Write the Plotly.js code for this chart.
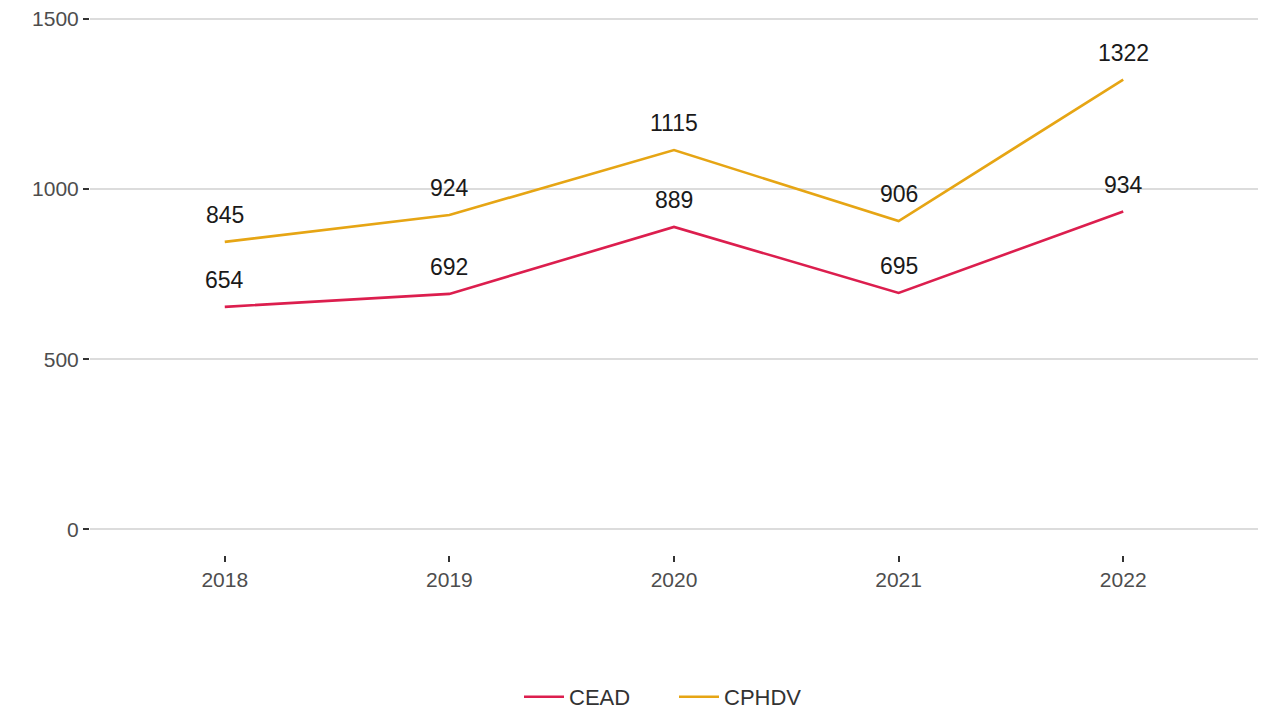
<!DOCTYPE html>
<html>
<head>
<meta charset="utf-8">
<script src="https://cdn.plot.ly/plotly-3.0.1.min.js"></script>
<style>html,body{margin:0;padding:0;background:#fff;}#chart{width:1268px;height:709px;}</style>
</head>
<body>
<div id="chart"></div>
<script>
var years = [2018, 2019, 2020, 2021, 2022];
var cead = [654, 692, 889, 695, 934];
var cphdv = [845, 924, 1115, 906, 1322];
var seriesNames = ["CEAD", "CPHDV"];
var yTicks = [0, 500, 1000, 1500];

var colors = ["#DC1E4E", "#E6A514"];
var series = [cead, cphdv];

var traces = series.map(function (vals, i) {
  return {
    x: years, y: vals, name: seriesNames[i], type: "scatter", mode: "lines",
    line: { color: colors[i], width: 2.6 }, hoverinfo: "x+y+name"
  };
});

var annotations = [];
series.forEach(function (vals) {
  vals.forEach(function (v, j) {
    annotations.push({
      x: years[j], y: v, text: String(v), showarrow: false,
      yshift: 27, font: { family: "Liberation Sans, Arial, sans-serif", size: 23, color: "#1a1a1a" }
    });
  });
});

var layout = {
  width: 1268, height: 709,
  margin: { l: 90, r: 10, t: 0, b: 32 },
  paper_bgcolor: "#fff", plot_bgcolor: "#fff",
  font: { family: "Liberation Sans, Arial, sans-serif", color: "#4d4d4d" },
  xaxis: {
    range: [2017.4, 2022.6], tickvals: years, ticktext: years.map(String),
    showgrid: false, zeroline: false, showline: false,
    ticks: "outside", ticklen: 6, tickwidth: 2, tickcolor: "#333",
    tickfont: { size: 21, color: "#4d4d4d" }, fixedrange: true
  },
  yaxis: {
    domain: [0.1787, 1],
    range: [-76, 1556], tickvals: yTicks, ticktext: yTicks.map(String),
    showgrid: true, gridcolor: "#dcdcdc", gridwidth: 1.6, zeroline: false, showline: false,
    ticks: "outside", ticklen: 6, tickwidth: 2, tickcolor: "#333",
    tickfont: { size: 21, color: "#4d4d4d" }, fixedrange: true
  },
  showlegend: true,
  legend: {
    orientation: "h", x: 0.5, xanchor: "center", yref: "container", y: 0.017, yanchor: "middle",
    font: { size: 22, color: "#333" }, itemwidth: 40, entrywidth: 100
  },
  annotations: annotations
};

Plotly.newPlot("chart", traces, layout, { displayModeBar: false, staticPlot: true });
</script>
</body>
</html>
